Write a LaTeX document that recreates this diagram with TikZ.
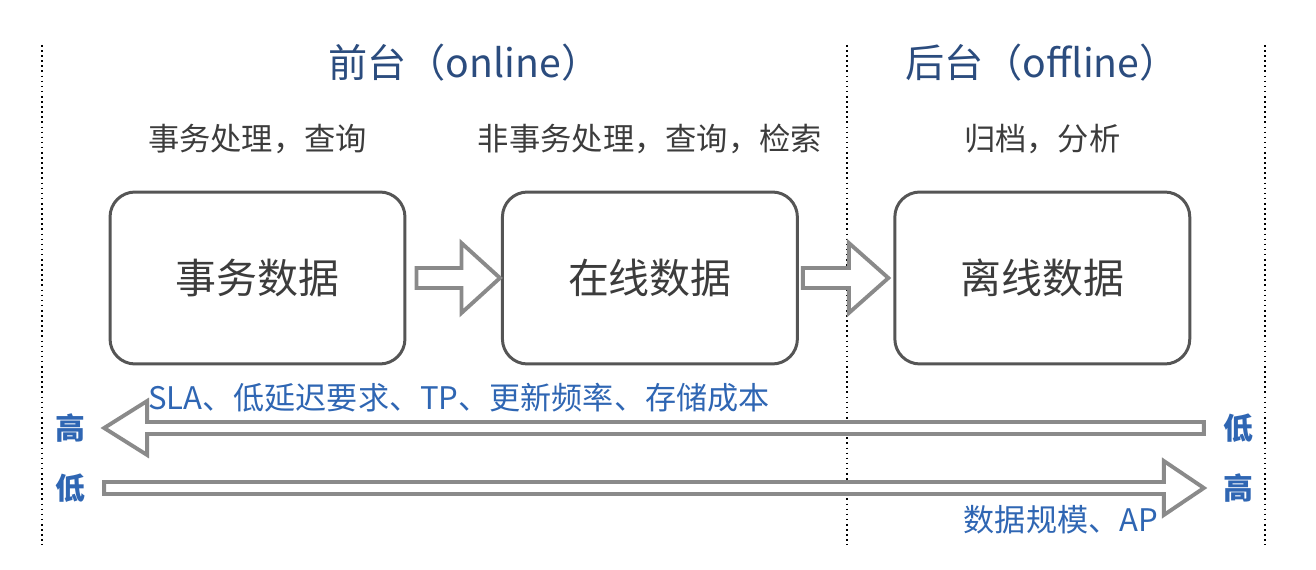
\documentclass[tikz,border=0pt]{standalone}
\usepackage{fontspec}
\setmainfont{Noto Sans CJK SC}
\usepackage{tikz}
\usetikzlibrary{positioning,calc}

\definecolor{titleblue}{HTML}{2B4C7E}
\definecolor{labelblue}{HTML}{2F66B3}
\definecolor{textgray}{HTML}{3C3C3C}
\definecolor{boxgray}{HTML}{555555}
\definecolor{arrowgray}{HTML}{8A8A8A}

\begin{document}
\begin{tikzpicture}[
  x=0.02cm, y=-0.02cm,
  node distance=1.89cm,
  every text node part/.style={align=center},
  store/.style={draw=boxgray, line width=1.7pt, rounded corners=0.5cm, minimum width=5.9cm, minimum height=3.44cm, font=\fontsize{23.3}{27}\selectfont, text=textgray},
  head/.style={font=\fontsize{22.3}{26}\selectfont, text=titleblue, anchor=west, inner sep=0pt},
  task/.style={font=\fontsize{17.8}{21}\selectfont, text=textgray},
  level/.style={font=\fontsize{17}{20}\selectfont\bfseries, text=labelblue},
  prop/.style={font=\fontsize{17.7}{21}\selectfont, text=labelblue, inner sep=1pt},
  fat/.style={draw=arrowgray, line width=2.2pt, fill=white, line join=miter},
  sep/.style={dotted, line width=0.9pt}
]
  \useasboundingbox (0,0) rectangle (1316,570);

  % separators
  \draw[sep] (42,45) -- (42,545);
  \draw[sep] (847,45) -- (847,545);
  \draw[sep] (1265,45) -- (1265,545);

  % headings
  \node[head] (front) at (328,63) {前台（online）};
  \node[head] (back) at (905,63) {后台（offline）};

  % data stores
  \node[store] (trans) at (257.5,278) {事务数据};
  \node[store, right=of trans] (online) {在线数据};
  \node[store, right=of online] (offline) {离线数据};

  \node[task, above=0.6cm of trans] (tTrans) {事务处理，查询};
  \node[task, above=0.6cm of online] (tOnline) {非事务处理，查询，检索};
  \node[task, above=0.6cm of offline] (tOffline) {归档，分析};

  % flow arrows between stores
  \draw[fat] ($(trans.east)+(10,-10)$) -- ++(45,0) -- ++(0,-25) -- ($(online.west)+(-1,0)$)
    -- ($(trans.east)+(55,35)$) -- ++(0,-25) -- ++(-45,0) -- cycle;
  \draw[fat] ($(online.east)+(4,-10)$) -- ++(46,0) -- ++(0,-25) -- ($(offline.west)+(-5,0)$)
    -- ($(online.east)+(50,35)$) -- ++(0,-25) -- ++(-46,0) -- cycle;

  % levels
  \node[level] (hiL) at (70,428) {高};
  \node[level] (loL) at (70,488) {低};
  \node[level] (loR) at (1238,428) {低};
  \node[level] (hiR) at (1238,488) {高};

  \coordinate (tipL) at ($(hiL.east)+(13,0)$);
  \coordinate (endL) at ($(loR.west)+(-13,0)$);
  \coordinate (tipR) at ($(hiR.west)+(-13,0)$);
  \coordinate (endR) at ($(loL.east)+(13,0)$);

  \draw[fat] (tipL) -- ++(43,-27) -- ++(0,21) -- ($(endL)+(0,-6)$) -- ($(endL)+(0,6)$)
    -- ($(tipL)+(43,6)$) -- ++(0,21) -- cycle;
  \draw[fat] (tipR) -- ++(-40,-27) -- ++(0,21) -- ($(endR)+(0,-6)$) -- ($(endR)+(0,6)$)
    -- ($(tipR)+(-40,6)$) -- ++(0,21) -- cycle;

  \node[prop, anchor=west] (upProps) at (146,398) {SLA、低延迟要求、TP、更新频率、存储成本};
  \node[prop, anchor=east] (downProps) at (1160,520) {数据规模、AP};
\end{tikzpicture}
\end{document}
